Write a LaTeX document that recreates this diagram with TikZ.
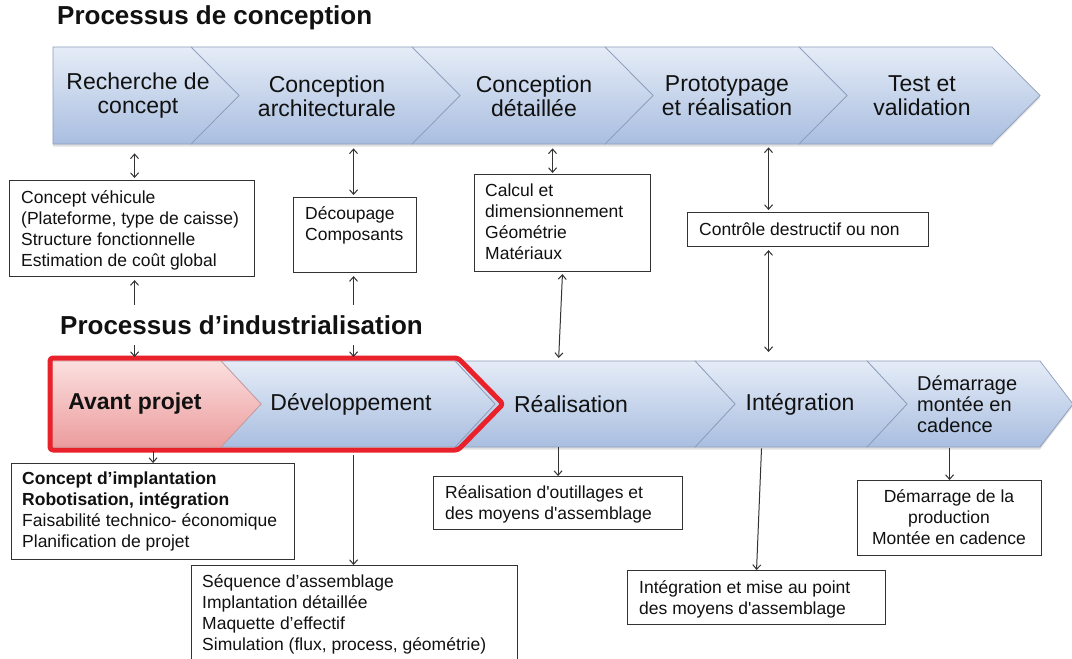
\documentclass[tikz,border=0pt]{standalone}
\usepackage{fontspec}
\setmainfont{Liberation Sans}
\usetikzlibrary{arrows.meta,calc}
\definecolor{chevtop}{HTML}{E5ECF7}
\definecolor{chevbot}{HTML}{A9BEE0}
\definecolor{chevline}{HTML}{8C9DBB}
\definecolor{pinktop}{HTML}{FBDFDF}
\definecolor{pinkbot}{HTML}{EC9C9D}
\definecolor{pinkline}{HTML}{C99A9A}
\definecolor{redline}{HTML}{E8212B}
\definecolor{boxline}{HTML}{333333}
\definecolor{ink}{HTML}{111111}
\begin{document}
\begin{tikzpicture}[x=1pt,y=-1pt,
  >={Straight Barb[length=4.5pt,width=8pt]},
  chevb/.style={draw=chevline, line width=0.7pt, top color=chevtop, bottom color=chevbot},
  chevp/.style={draw=pinkline, line width=0.7pt, top color=pinktop, bottom color=pinkbot},
  shadowrow/.style={fill=black, opacity=0.12},
  lab/.style={font=\fontsize{23}{24}\selectfont, align=center, text=ink, inner sep=0},
  title/.style={font=\fontsize{26}{30}\selectfont\bfseries, text=ink},
  boxr/.style={draw=boxline, line width=1.1pt, fill=white, inner sep=0, anchor=north west},
  btxt/.style={font=\fontsize{17.5}{21}\selectfont, align=left, text=ink, inner sep=0, anchor=north west},
  conn/.style={draw=boxline, line width=1pt},
]
\useasboundingbox (0,0) rectangle (1072,659);
\fill[white] (0,0) rectangle (1072,659);

% ---------- top row (conception) ----------
\fill[shadowrow, yshift=-2.5pt] (53,47) -- (992,47) -- (1040,95.5) -- (992,144) -- (53,144) -- cycle;
\path[chevb] (799,47) -- (992,47) -- (1040,95.5) -- (992,144) -- (799,144) -- (847,95.5) -- cycle;
\path[chevb] (605,47) -- (799,47) -- (847,95.5) -- (799,144) -- (605,144) -- (653,95.5) -- cycle;
\path[chevb] (412,47) -- (605,47) -- (653,95.5) -- (605,144) -- (412,144) -- (460,95.5) -- cycle;
\path[chevb] (191,47) -- (412,47) -- (460,95.5) -- (412,144) -- (191,144) -- (239,95.5) -- cycle;
\path[chevb] (53,47) -- (191,47) -- (239,95.5) -- (191,144) -- (53,144) -- cycle;
\node[inner sep=0, minimum width=987pt, minimum height=97pt, anchor=north west] (toprow) at (53,47) {};

\node[lab] (t1) at (138,96) {Recherche de\\concept};
\node[lab] (t2) at (327,96) {Conception\\architecturale};
\node[lab] (t3) at (534,96) {Conception\\détaillée};
\node[lab] (t4) at (727,96) {Prototypage\\et réalisation};
\node[lab] (t5) at (922,96) {Test et\\validation};

% ---------- lower row (industrialisation) ----------
\fill[shadowrow, yshift=-2.5pt] (52,361) -- (1040,361) -- (1073,404) -- (1040,447) -- (52,447) -- cycle;
\path[chevb] (867,361) -- (1040,361) -- (1073,404) -- (1040,447) -- (867,447) -- (907,404) -- cycle;
\path[chevb] (695,361) -- (867,361) -- (907,404) -- (867,447) -- (695,447) -- (735,404) -- cycle;
\path[chevb] (455,361) -- (695,361) -- (735,404) -- (695,447) -- (455,447) -- (495,404) -- cycle;
\path[chevb] (221,361) -- (455,361) -- (495,404) -- (455,447) -- (221,447) -- (261,404) -- cycle;
\path[chevp] (52,361) -- (221,361) -- (261,404) -- (221,447) -- (52,447) -- cycle;
\node[inner sep=0, minimum width=1021pt, minimum height=86pt, anchor=north west] (botrow) at (52,361) {};
\draw[redline, line width=5pt, rounded corners=3pt, line join=round]
  (50,358) -- (458,358) -- (503,404) -- (458,450) -- (50,450) -- cycle;

\node[lab, font=\fontsize{23}{24}\selectfont\bfseries] (l1) at (135,404) {Avant projet};
\node[lab] (l2) at (351,404) {Développement};
\node[lab] (l3) at (571,404) {Réalisation};
\node[lab] (l4) at (800,404) {Intégration};
\node[lab, font=\fontsize{20}{21}\selectfont, align=left, anchor=west] (l5) at (917,404) {Démarrage\\montée en\\cadence};

% ---------- boxes ----------
\node[boxr, minimum width=245pt, minimum height=96pt] (b1) at (9,180) {};
\node[boxr, minimum width=123pt, minimum height=75pt] (b2) at (293,197) {};
\node[boxr, minimum width=176pt, minimum height=97pt] (b3) at (474,174) {};
\node[boxr, minimum width=241pt, minimum height=34pt] (b4) at (687,212) {};
\node[boxr, minimum width=283pt, minimum height=96pt] (b5) at (11,463) {};
\node[boxr, minimum width=326pt, minimum height=105pt] (b6) at (191,565) {};
\node[boxr, minimum width=249pt, minimum height=53pt] (b7) at (433,476) {};
\node[boxr, minimum width=258pt, minimum height=54pt] (b8) at (627,570) {};
\node[boxr, minimum width=184pt, minimum height=75pt] (b9) at (857,480) {};

\node[btxt] (x1) at (21,190) {Concept véhicule\\(Plateforme, type de caisse)\\Structure fonctionnelle\\Estimation de coût global};
\node[btxt] (x2) at (305,206) {Découpage\\Composants};
\node[btxt] (x3) at (485,184) {Calcul et\\dimensionnement\\Géométrie\\Matériaux};
\node[btxt] (x4) at (699,223) {Contrôle destructif ou non};
\node[btxt] (x5) at (22,472) {\textbf{Concept d’implantation}\\\textbf{Robotisation, intégration}\\Faisabilité technico- économique\\Planification de projet};
\node[btxt] (x6) at (202,574) {Séquence d’assemblage\\Implantation détaillée\\Maquette d’effectif\\Simulation (flux, process, géométrie)};
\node[btxt] (x7) at (445,485) {Réalisation d\textquotesingle outillages et\\des moyens d\textquotesingle assemblage};
\node[btxt] (x8) at (639,580) {Intégration et mise au point\\des moyens d\textquotesingle assemblage};
\node[btxt, align=center, anchor=north] (x9) at (949,489) {Démarrage de la\\production\\Montée en cadence};

% ---------- connectors: boxes <-> conception row ----------
\draw[conn, <->, shorten <=2pt, shorten >=9pt] ([xshift=2.5pt]b1.north) -- ([xshift=2.5pt]b1.north |- toprow.south);
\draw[conn, <->, shorten <=2pt, shorten >=4pt] ([xshift=-1.5pt]b2.north) -- ([xshift=-1.5pt]b2.north |- toprow.south);
\draw[conn, <->, shorten <=1pt, shorten >=4pt] ([xshift=-10pt]b3.north) -- ([xshift=-10pt]b3.north |- toprow.south);
\draw[conn, <->, shorten <=2pt, shorten >=3pt] ([xshift=-39.5pt]b4.north) -- ([xshift=-39.5pt]b4.north |- toprow.south);

% ---------- connectors: boxes <-> industrialisation row ----------
\draw[conn, <->, shorten <=3pt, shorten >=4pt] ([xshift=2.5pt]b1.south) -- ([xshift=2.5pt]b1.south |- botrow.north);
\draw[conn, <->, shorten <=3pt, shorten >=4pt] ([xshift=-1.5pt]b2.south) -- ([xshift=-1.5pt]b2.south |- botrow.north);
\draw[conn, <->, shorten <=2pt, shorten >=3pt] (b3.south) -- ([xshift=-4pt]b3.south |- botrow.north);
\draw[conn, <->, shorten <=3pt, shorten >=9pt] ([xshift=-39.5pt]b4.south) -- ([xshift=-39.5pt]b4.south |- botrow.north);

% ---------- connectors: industrialisation row -> boxes ----------
\draw[conn, ->, shorten <=4pt] (b5.north |- botrow.south) -- (b5.north);
\draw[conn, ->, shorten <=8pt] ([xshift=-1pt]b6.north |- botrow.south) -- ([xshift=-1pt]b6.north);
\draw[conn, ->] (b7.north |- botrow.south) -- (b7.north);
\draw[conn, ->, shorten <=1pt] ([xshift=5pt]b8.north |- botrow.south) -- (b8.north);
\draw[conn, ->, shorten <=1pt] (b9.north |- botrow.south) -- (b9.north);

% ---------- titles ----------
\node[title, anchor=west, inner xsep=0pt] (title1) at (57,18) {Processus de conception};
\node[title, anchor=west, inner xsep=0pt, inner ysep=10pt, fill=white] (title2) at (60,325) {Processus d’industrialisation};
\end{tikzpicture}
\end{document}
